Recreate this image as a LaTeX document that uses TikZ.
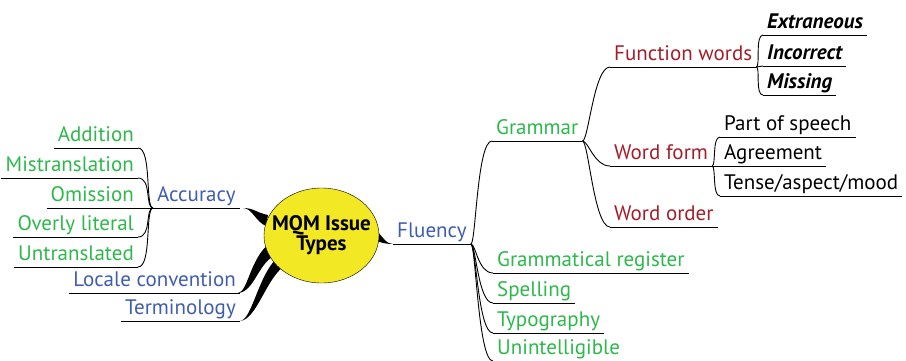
\documentclass[tikz,border=0pt]{standalone}
\usepackage{fontspec}
\setmainfont{PT Sans}
\usetikzlibrary{shapes.geometric}
\definecolor{mmgreen}{HTML}{2DB84B}
\definecolor{mmblue}{HTML}{3F5DB0}
\definecolor{mmred}{HTML}{A41E2A}
\definecolor{mmyellow}{HTML}{F2E824}
\tikzset{
  topic/.style={inner xsep=4pt, inner ysep=1.5pt, text height=15pt, text depth=5pt},
  rt/.style={topic, anchor=south west},
  lt/.style={topic, anchor=south east},
  link/.style={draw, line width=0.9pt},
}
\begin{document}
\begin{tikzpicture}[x=1pt,y=-1pt]
\fontsize{21}{23}\selectfont
\useasboundingbox (0,0) rectangle (906,360);

% thick branches under the centre
\fill (243,208) .. controls (254,208) and (257,213) .. (268,215) -- (266,226) .. controls (256,222) and (252,208) .. (243,208);
\fill (238,293) .. controls (248,292) and (250,258) .. (270,243) -- (274,256) .. controls (258,264) and (254,292) .. (238,293);
\fill (240,321) .. controls (252,320) and (258,276) .. (277,258) -- (283,267) .. controls (266,280) and (256,320) .. (240,321);
\fill (393,244) .. controls (386,244) and (384,238) .. (374,228) -- (374,240) .. controls (382,243) and (386,244) .. (393,244);

\node[draw, ellipse, fill=mmyellow, minimum width=115pt, minimum height=95pt, inner sep=0pt] (mqm) at (321.5,235.5) {};
\node[align=center, font=\bfseries, inner sep=0pt] (mqmtext) at (mqm) {MQM Issue\\[-3pt]Types};

% left side
\node[lt, text=mmblue] (loc) at (240,293) {Locale convention};
\node[lt, text=mmblue] (ter) at (240,321) {Terminology};
\node[rt, text=mmblue] (acc) at (153,208) {Accuracy};
\node[lt, text=mmgreen] (add) at (138,148) {Addition};
\node[lt, text=mmgreen] (mis) at (138,178) {Mistranslation};
\node[lt, text=mmgreen] (omi) at (138,208) {Omission};
\node[lt, text=mmgreen] (ove) at (138,237) {Overly literal};
\node[lt, text=mmgreen] (unt) at (138,267) {Untranslated};

% right side
\node[rt, text=mmblue] (flu) at (393,244) {Fluency};
\node[rt, text=mmgreen] (gram) at (492,141) {Grammar};
\node[rt, text=mmgreen] (reg) at (493,273) {Grammatical register};
\node[rt, text=mmgreen] (spe) at (493,303) {Spelling};
\node[rt, text=mmgreen] (typ) at (493,333) {Typography};
\node[rt, text=mmgreen] (uni) at (493,361) {Unintelligible};

\node[rt, text=mmred] (fw) at (610,67) {Function words};
\node[rt, text=mmred] (wf) at (610,166) {Word form};
\node[rt, text=mmred] (wo) at (610,227) {Word order};

\node[rt, font=\bfseries\itshape] (ext) at (763,35) {Extraneous};
\node[rt, font=\bfseries\itshape] (inc) at (763,66) {Incorrect};
\node[rt, font=\bfseries\itshape] (mss) at (763,95) {Missing};

\node[rt] (pos) at (720,137) {Part of speech};
\node[rt] (agr) at (720,166) {Agreement};
\node[rt] (tam) at (720,196) {Tense/aspect/mood};

% underlines
\foreach \n in {loc,ter,acc,add,mis,omi,ove,unt,flu,gram,reg,spe,typ,uni,fw,wf,wo,ext,inc,mss,pos,agr,tam}
  \path[link] (\n.south west) -- (\n.south east);

% connectors
\path[link] (acc.south west) .. controls +(-8,0) and +(14,0) .. (add.south east);
\path[link] (acc.south west) .. controls +(-8,0) and +(14,0) .. (mis.south east);
\path[link] (acc.south west) -- (omi.south east);
\path[link] (acc.south west) .. controls +(-8,0) and +(14,0) .. (ove.south east);
\path[link] (acc.south west) .. controls +(-8,0) and +(14,0) .. (unt.south east);

\path[link] (flu.south east) .. controls +(5,0) and +(-15,0) .. (gram.south west);
\path[link] (flu.south east) .. controls +(5,0) and +(-15,0) .. (reg.south west);
\path[link] (flu.south east) .. controls +(5,0) and +(-15,0) .. (spe.south west);
\path[link] (flu.south east) .. controls +(5,0) and +(-15,0) .. (typ.south west);
\path[link] (flu.south east) .. controls +(5,0) and +(-15,0) .. (uni.south west);

\path[link] (gram.south east) .. controls +(6,0) and +(-16,0) .. (fw.south west);
\path[link] (gram.south east) .. controls +(6,0) and +(-16,0) .. (wf.south west);
\path[link] (gram.south east) .. controls +(6,0) and +(-16,0) .. (wo.south west);

\path[link] (fw.south east) .. controls +(4,0) and +(-8,0) .. (ext.south west);
\path[link] (fw.south east) -- (inc.south west);
\path[link] (fw.south east) .. controls +(4,0) and +(-8,0) .. (mss.south west);

\path[link] (wf.south east) .. controls +(4,0) and +(-8,0) .. (pos.south west);
\path[link] (wf.south east) -- (agr.south west);
\path[link] (wf.south east) .. controls +(4,0) and +(-8,0) .. (tam.south west);
\end{tikzpicture}
\end{document}
